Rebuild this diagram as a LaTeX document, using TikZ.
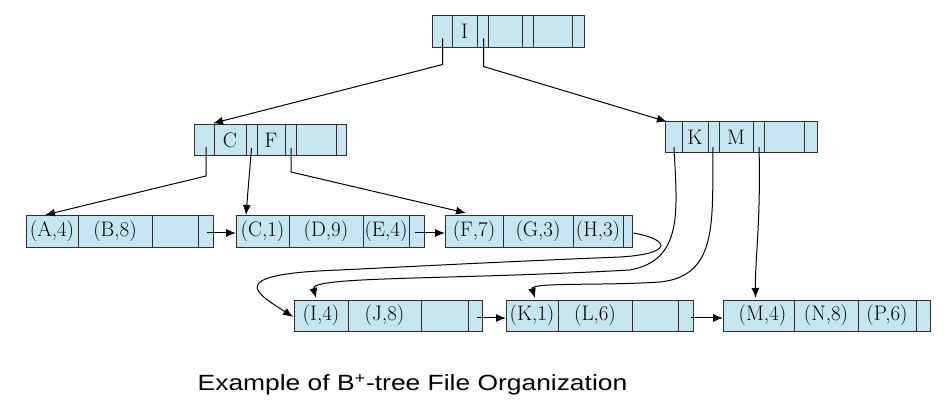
\documentclass[tikz,border=0pt]{standalone}
\usepackage{fontspec}
\newfontfamily\capfont{Liberation Sans}
\usetikzlibrary{arrows.meta,calc}
\definecolor{cellblue}{RGB}{197,230,240}
\definecolor{edgegray}{RGB}{45,45,45}
\begin{document}
\begin{tikzpicture}[x=1pt,y=-1pt,
  cell/.style={draw=edgegray, fill=cellblue, line width=0.9pt, inner sep=0pt, outer sep=0pt,
    font=\fontsize{21}{21}\selectfont},
  rootrow/.style={cell, minimum height=31.6pt},
  cfrow/.style={cell, minimum height=31.4pt},
  kmrow/.style={cell, minimum height=31pt},
  leafa/.style={cell, minimum height=32pt},
  leafb/.style={cell, minimum height=31pt},
  ptr/.style={draw=black, line width=1pt, -{Latex[length=10pt,width=8pt]}}]
\useasboundingbox (0,0) rectangle (951,411);
% root
\node[rootrow, minimum width=20pt] (rp0) at (442,31.5) {};
\node[rootrow, minimum width=25pt] (rk1) at (464.5,31.5) {I};
\node[rootrow, minimum width=11pt] (rp1) at (482.5,31.5) {};
\node[rootrow, minimum width=34pt] (rk2) at (505,31.5) {};
\node[rootrow, minimum width=11pt] (rp2) at (527.5,31.5) {};
\node[rootrow, minimum width=39pt] (rk3) at (552.5,31.5) {};
\node[rootrow, minimum width=12pt] (rp3) at (578,31.5) {};
% C F node
\node[cfrow, minimum width=20pt] (cp0) at (204,140) {};
\node[cfrow, minimum width=32pt] (ck1) at (230,140) {C};
\node[cfrow, minimum width=11pt] (cp1) at (251.5,140) {};
\node[cfrow, minimum width=28pt] (ck2) at (271,140) {F};
\node[cfrow, minimum width=11pt] (cp2) at (290.5,140) {};
\node[cfrow, minimum width=40pt] (ck3) at (316,140) {};
\node[cfrow, minimum width=10pt] (cp3) at (341,140) {};
% K M node
\node[kmrow, minimum width=17pt] (kp0) at (673.5,137.2) {};
\node[kmrow, minimum width=26pt] (kk1) at (695,137.2) {K};
\node[kmrow, minimum width=11pt] (kp1) at (713.5,137.2) {};
\node[kmrow, minimum width=34pt] (kk2) at (736,137.2) {M};
\node[kmrow, minimum width=11pt] (kp2) at (758.5,137.2) {};
\node[kmrow, minimum width=40pt] (kk3) at (784,137.2) {};
\node[kmrow, minimum width=13pt] (kp3) at (810.5,137.2) {};
% leaves row 1
\node[leafa, minimum width=52pt] (la1) at (52,231) {(A,4)};
\node[leafa, minimum width=74pt] (la2) at (115,231) {(B,8)};
\node[leafa, minimum width=46pt] (la3) at (175,231) {};
\node[leafa, minimum width=15pt] (lap) at (205.5,231) {};
\node[leafa, minimum width=53pt] (lc1) at (262.5,231) {(C,1)};
\node[leafa, minimum width=74pt] (lc2) at (326,231) {(D,9)};
\node[leafa, minimum width=46pt] (lc3) at (386,231) {(E,4)};
\node[leafa, minimum width=15pt] (lcp) at (416.5,231) {};
\node[leafa, minimum width=58pt] (lf1) at (474,231) {(F,7)};
\node[leafa, minimum width=70pt] (lf2) at (538,231) {(G,3)};
\node[leafa, minimum width=50pt] (lf3) at (598,231) {(H,3)};
\node[leafa, minimum width=9pt] (lfp) at (627.5,231) {};
% leaves row 2
\node[leafb, minimum width=54pt] (li1) at (321,315.5) {(I,4)};
\node[leafb, minimum width=73pt] (li2) at (384.5,315.5) {(J,8)};
\node[leafb, minimum width=47pt] (li3) at (444.5,315.5) {};
\node[leafb, minimum width=14pt] (lip) at (475,315.5) {};
\node[leafb, minimum width=52pt] (lk1) at (532,315.5) {(K,1)};
\node[leafb, minimum width=74pt] (lk2) at (595,315.5) {(L,6)};
\node[leafb, minimum width=46pt] (lk3) at (655,315.5) {};
\node[leafb, minimum width=15pt] (lkp) at (685.5,315.5) {};
\node[leafb, minimum width=71pt] (lm1) at (758.5,315.5) {\hspace*{8pt}(M,4)};
\node[leafb, minimum width=64pt] (lm2) at (826,315.5) {(N,8)};
\node[leafb, minimum width=58pt] (lm3) at (887,315.5) {(P,6)};
\node[leafb, minimum width=14pt] (lmp) at (923,315.5) {};
% root pointers
\draw[ptr] ($(rp0.center)+(0.7,7)$) -- ($(rp0.center)+(0.7,33)$) -- ($(ck1.north west)+(-1,-1)$);
\draw[ptr] ($(rp1.center)+(1,7)$) -- ($(rp1.center)+(1,35)$) -- ($(kp0.north west)+(2,0)$);
% C F pointers
\draw[ptr] ($(cp0.center)+(2,7)$) -- ($(cp0.center)+(2,36)$) -- ($(la1.north)+(-7,0)$);
\draw[ptr] ($(cp1.center)+(0,8)$) -- ($(lc1.north west)+(10,0)$);
\draw[ptr] ($(cp2.center)+(0.5,8)$) -- ($(cp2.center)+(0.5,32)$) -- ($(lf1.north)+(-8,-2)$);
% K M pointers
\draw[ptr] ($(kp0.center)+(0.5,10)$) .. controls (677,210) and (684,260) .. (630,270)
  .. controls (450,280) and (310,276) .. ($(li1.north)+(-5,-2)$);
\draw[ptr] ($(kp1.center)+(-0.5,10)$) .. controls (712,220) and (719,276) .. (660,282)
  .. controls (600,286) and (530,282) .. ($(lk1.north)+(3,-2)$);
\draw[ptr] ($(kp2.center)+(0.5,10)$) .. controls (761,220) and (755,260) .. ($(lm1.north)+(-3,-2)$);
% sibling pointers
\draw[ptr] ($(lap.center)+(1,2)$) -- ($(lc1.west)+(0,2)$);
\draw[ptr] ($(lcp.center)+(-1.5,2)$) -- ($(lf1.west)+(0,2)$);
\draw[ptr] ($(lfp.center)+(6,2)$) .. controls (672,240) and (672,254) .. (620,257)
  .. controls (520,261) and (420,266) .. (340,270)
  .. controls (220,274) and (258,294) .. ($(li1.west)+(-1,1.5)$);
\draw[ptr] ($(lip.center)+(1.5,2.5)$) -- ($(lk1.west)+(0,2.5)$);
\draw[ptr] ($(lkp.center)+(5,2.5)$) -- ($(lm1.west)+(0,2.5)$);
% caption
\node[font=\capfont\fontsize{22}{22}\selectfont, anchor=base, inner sep=0pt] (caption) at (412.5,391)
  {\scalebox{1.2}[1]{Example of B\textsuperscript{+}-tree File Organization}};
\end{tikzpicture}
\end{document}
